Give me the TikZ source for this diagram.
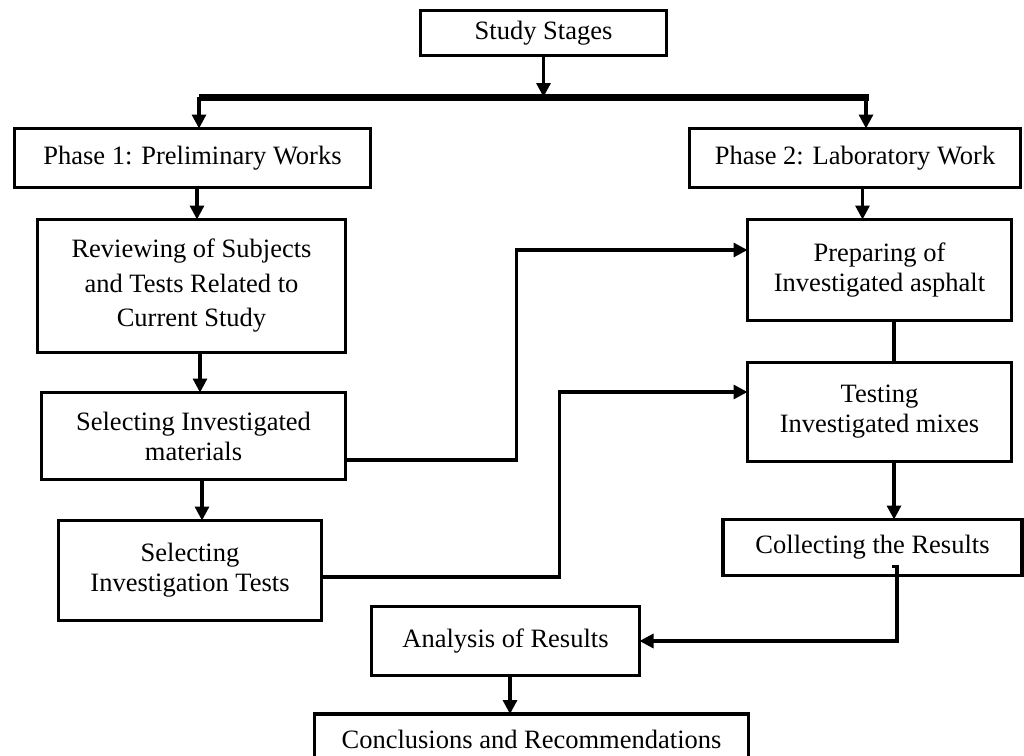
\documentclass[tikz,border=0pt]{standalone}
\usepackage{fontspec}
\setmainfont{Liberation Serif}
\usetikzlibrary{arrows.meta}
\begin{document}
\begin{tikzpicture}[x=1pt,y=-1pt,
  box/.style={draw, line width=3.6pt, inner sep=0pt, outer sep=0pt, align=center,
    font=\fontsize{26.5}{30}\selectfont},
  conn/.style={line width=3.2pt, -{Triangle[length=14pt,width=14pt]}},
  plain/.style={line width=3.2pt},
  bar/.style={line width=7pt}]
\useasboundingbox (0,0) rectangle (1024,755);

\node[box, minimum width=246, minimum height=45] (stages) at (543.5,33) {Study Stages};
\node[box, minimum width=356, minimum height=59] (p1) at (192.5,158) {Phase 1: Preliminary Works};
\node[box, minimum width=331, minimum height=59] (p2) at (855,158) {Phase 2: Laboratory Work};
\node[box, minimum width=308, minimum height=133, font=\fontsize{26.5}{34.5}\selectfont] (rev) at (191.5,286) {Reviewing of Subjects\\and Tests Related to\\Current Study};
\node[box, minimum width=304, minimum height=87] (mat) at (193.5,436) {Selecting Investigated\\materials};
\node[box, minimum width=263, minimum height=100] (tests) at (190,570.5) {Selecting\\Investigation Tests};
\node[box, minimum width=264, minimum height=101] (prep) at (879.5,270) {Preparing of\\Investigated asphalt};
\node[box, minimum width=264, minimum height=99] (test) at (879.5,412) {Testing\\Investigated mixes};
\node[box, minimum width=299, minimum height=56] (coll) at (872.5,547.5) {Collecting the Results};
\node[box, minimum width=268, minimum height=69] (anal) at (505.5,641) {Analysis of Results};
\node[box, minimum width=434, minimum height=54] (conc) at (531.5,741) {\raisebox{4pt}{Conclusions and Recommendations}};

% top distribution bar
\coordinate (bl) at (199,97);
\coordinate (br) at (869,97);
\draw[bar] (bl) -- (br);
\draw[conn] (stages.south) -- (stages.south |- bl);
\draw[conn] (bl) -- (bl |- p1.north);
\draw[conn] ([xshift=-3pt]br) -- ([xshift=-3pt]br |- p2.north);

% phase 1 column
\draw[conn] ([xshift=4.5pt]p1.south) -- ([xshift=4.5pt]p1.south |- rev.north);
\draw[conn] ([xshift=8.5pt]rev.south) -- ([xshift=8.5pt]rev.south |- mat.north);
\draw[conn] ([xshift=8.5pt]mat.south) -- ([xshift=8.5pt]mat.south |- tests.north);

% phase 2 column
\draw[conn] ([xshift=7.5pt]p2.south) -- ([xshift=7.5pt]p2.south |- prep.north);
\draw[plain] ([xshift=14.5pt]prep.south) -- ([xshift=14.5pt]prep.south |- test.north);
\draw[conn] ([xshift=14.5pt]test.south) -- ([xshift=14.5pt]test.south |- coll.north);

% cross links
\draw[conn] ([yshift=-24pt]mat.east) -- ++(171,0) |- ([yshift=20pt]prep.west);
\draw[conn] ([yshift=-6.5pt]tests.east) -- ++(238,0) |- ([yshift=20pt]test.west);
\draw[conn] ([xshift=19.5pt,yshift=9pt]coll.south) -- ++(5,0) |- (anal.east);
\draw[conn] ([xshift=4.5pt]anal.south) -- ([xshift=4.5pt]anal.south |- conc.north);
\end{tikzpicture}
\end{document}
